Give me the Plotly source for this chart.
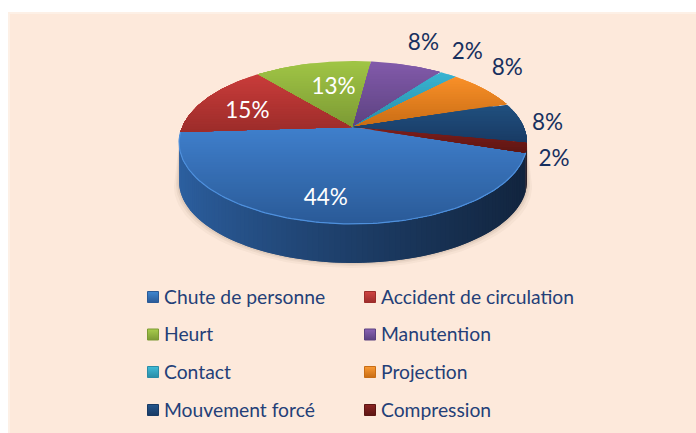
import math
import numpy as np
import plotly.graph_objects as go

# ---- data ----
categories = ["Chute de personne", "Accident de circulation", "Heurt", "Manutention",
              "Contact", "Projection", "Mouvement forcé", "Compression"]
values = [44, 15, 13, 8, 2, 8, 8, 2]

# ---- style ----
top_light = ["#3f7fcc", "#c93c3a", "#a0c545", "#825aaa", "#38b4d2", "#f99028", "#20507f", "#7e1e1b"]
top_dark = ["#2a5a97", "#9c2c2a", "#7c9a34", "#5c4280", "#2a8ca6", "#c86c14", "#183a64", "#5c1512"]
legend_mid = ["#3f86d0", "#d04442", "#a8cc4c", "#8a62b4", "#40bcd8", "#fa9a34", "#24568c", "#8c2422"]
label_r = [0.77, 0.69, 0.60, 1.48, 1.445, 1.39, 1.157, 1.155]
label_nudge = [-3, 3, -4, 1, 5, 8, 0, -4]
label_color = ["white", "white", "white", "#17305f", "#17305f", "#17305f", "#17305f", "#17305f"]

PANEL = "#fde9db"
TEXT = "#243f78"
CX, CY, RX, RY, PERSP, DEPTH = 353.0, 127.0, 170.8, 78.5, 0.19, 39.0
START = -18.0
TEXT_DY = 3.0


def project(theta_deg, r=1.0):
    t = np.radians(theta_deg)
    X, Y = r * np.cos(t), r * np.sin(t)
    w = 1 + PERSP * Y
    return CX + RX * X / w, CY - RY * Y / w


def hexrgb(h):
    return np.array([int(h[i:i + 2], 16) for i in (1, 3, 5)], float)


def mix(a, b, t):
    c = hexrgb(a) * (1 - t) + hexrgb(b) * t
    return "rgb(%d,%d,%d)" % tuple(c.round())


def clip(poly, y0, y1):
    def half(pts, keep, cross):
        out = []
        for i in range(len(pts)):
            p, q = pts[i], pts[(i + 1) % len(pts)]
            if keep(p):
                out.append(p)
            if keep(p) != keep(q):
                out.append(cross(p, q))
        return out
    def at(y):
        return lambda p, q: (p[0] + (q[0] - p[0]) * (y - p[1]) / (q[1] - p[1]), y)
    pts = half(poly, lambda p: p[1] >= y0, at(y0))
    if pts:
        pts = half(pts, lambda p: p[1] <= y1, at(y1))
    return pts


def fill_poly(fig, xs, ys, color, width=0):
    fig.add_trace(go.Scatter(x=xs, y=ys, mode="lines", fill="toself", fillcolor=color,
                             line=dict(color=color, width=width), hoverinfo="skip", showlegend=False))


fig = go.Figure()

# slice angles (clockwise from START)
total = sum(values)
edges = [START]
for v in values:
    edges.append(edges[-1] - 360.0 * v / total)

# soft shadow under the pie
front = np.linspace(-169, -11, 120)
fx, fy = project(front)
for grow, alpha in ((5, 0.05), (3, 0.07), (1.5, 0.10)):
    sx = CX + (fx - CX) * (1 + grow / RX)
    sy = fy + DEPTH + grow
    fill_poly(fig, list(sx) + list(fx[::-1]), list(sy) + list(fy[::-1]),
              "rgba(120,90,70,%.2f)" % alpha)

# side wall: only the front-facing part of each slice
limit = math.degrees(math.asin(PERSP))
vis_lo, vis_hi = -180 + limit, -limit
for i in range(len(values)):
    hi, lo = edges[i], edges[i + 1]
    if hi < vis_lo:
        hi += 360
        lo += 360
    a0, a1 = max(lo, vis_lo), min(hi, vis_hi)
    if a1 <= a0:
        continue
    n = max(2, int((a1 - a0) / 1.5))
    ang = np.linspace(a0, a1, n + 1)
    x_all, y_all = project(ang)
    for j in range(n):
        t = (0.5 * (x_all[j] + x_all[j + 1]) - (CX - RX)) / (2 * RX)
        t = float(np.clip(t, 0, 1))
        col = mix("#2c5f9f", "#12253f", t ** 0.8) if i == 0 else "#1a1420"
        sub = np.linspace(ang[j], min(a1, ang[j + 1] + 1.5), 4)
        xs, ys = project(sub)
        fill_poly(fig, list(xs) + list(xs[::-1]), list(ys) + list(ys[::-1] + DEPTH), col)

# top face: every slice filled band by band for its vertical gradient
for i in range(len(values)):
    ang = np.linspace(edges[i], edges[i + 1], 60)
    xs, ys = project(ang)
    poly = [(CX, CY)] + list(zip(xs, ys))
    ymin, ymax = min(p[1] for p in poly), max(p[1] for p in poly)
    # paint from the top down: each layer covers everything below its y
    y = ymin
    while y < ymax:
        piece = clip(poly, y, ymax + 1)
        if len(piece) >= 3:
            t = min(1, (y + 1 - ymin) / (ymax - ymin))
            fill_poly(fig, [p[0] for p in piece], [p[1] for p in piece],
                      mix(top_light[i], top_dark[i], t))
        y += 2.5

# lighter lip on the front edge of the first slice
lip = np.linspace(edges[1], edges[0], 120)
lx, ly = project(lip)
fig.add_trace(go.Scatter(x=lx, y=ly, mode="lines", line=dict(color="#4f90dc", width=1.2),
                         hoverinfo="skip", showlegend=False))

# percentage labels
pct = ["%d%%" % round(100 * v / total) for v in values]
for i in range(len(values)):
    mid = 0.5 * (edges[i] + edges[i + 1]) + label_nudge[i]
    x, y = project(mid, label_r[i])
    fig.add_trace(go.Scatter(x=[x], y=[y + TEXT_DY], mode="text", text=[pct[i]], textposition="middle center",
                             textfont=dict(family="Lato", size=22.5, color=label_color[i]),
                             hoverinfo="skip", showlegend=False))

# legend: two columns, four rows
col_x = [153, 370]
row_y = [297, 334.5, 372, 410]
for i, name in enumerate(categories):
    lx0, ly0 = col_x[i % 2], row_y[i // 2]
    fig.add_trace(go.Scatter(x=[lx0], y=[ly0], mode="markers",
                             marker=dict(symbol="square", size=11, color=legend_mid[i],
                                         gradient=dict(type="vertical", color=top_dark[i]),
                                         line=dict(color=top_dark[i], width=1)),
                             hoverinfo="skip", showlegend=False))
    fig.add_trace(go.Scatter(x=[lx0 + 11], y=[ly0 + 2], mode="text", text=[name], textposition="middle right",
                             textfont=dict(family="Lato", size=19.3, color=TEXT),
                             hoverinfo="skip", showlegend=False))

fig.update_layout(
    width=696, height=433, margin=dict(l=0, r=0, t=0, b=0),
    paper_bgcolor="white", plot_bgcolor="rgba(0,0,0,0)", showlegend=False,
    xaxis=dict(range=[0, 696], visible=False, fixedrange=True),
    yaxis=dict(range=[433, 0], visible=False, fixedrange=True),
    shapes=[dict(type="rect", xref="x", yref="y", x0=9, y0=13, x1=697, y1=434, layer="below",
                 fillcolor=PANEL, line=dict(color="#fdf0e6", width=2))],
)
fig.write_html("out.html", config={"displayModeBar": False},
               post_script="document.body.style.margin='0';document.body.style.overflow='hidden';")
